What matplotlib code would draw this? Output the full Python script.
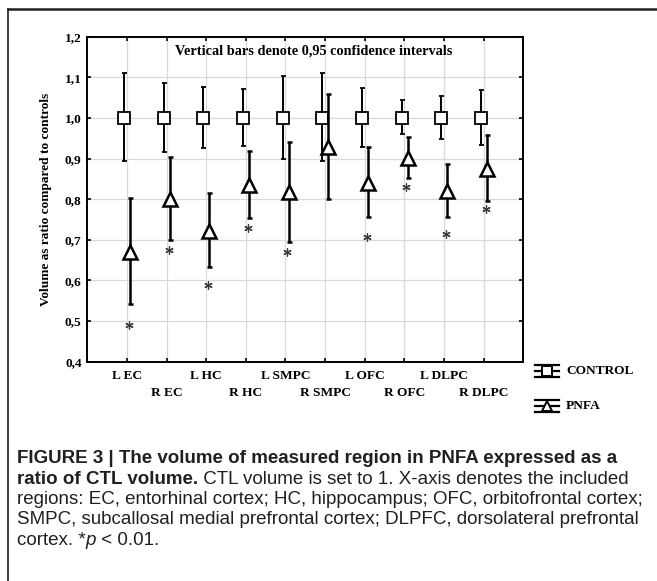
import matplotlib
matplotlib.use("Agg")
import matplotlib.pyplot as plt
from matplotlib.lines import Line2D
import numpy as np

# region labels (L/R alternate on two rows)
regions = ['L EC', 'R EC', 'L HC', 'R HC', 'L SMPC', 'R SMPC',
           'L OFC', 'R OFC', 'L DLPC', 'R DLPC']

# control: mean 1 with 95% CI
ctrl_mean = [1.0] * 10
ctrl_hi = [1.110, 1.087, 1.077, 1.071, 1.104, 1.110, 1.074, 1.043, 1.055, 1.068]
ctrl_lo = [0.893, 0.916, 0.925, 0.931, 0.898, 0.894, 0.929, 0.960, 0.947, 0.934]

# PNFA: ratio with 95% CI
pnfa_mean = [0.670, 0.800, 0.722, 0.836, 0.817, 0.929, 0.841, 0.901, 0.821, 0.874]
pnfa_hi = [0.802, 0.903, 0.815, 0.919, 0.940, 1.058, 0.929, 0.952, 0.887, 0.958]
pnfa_lo = [0.543, 0.699, 0.633, 0.753, 0.695, 0.800, 0.755, 0.852, 0.757, 0.796]

# significance stars (None = not significant)
star_y = [0.490, 0.675, 0.589, 0.728, 0.670, None, 0.706, 0.831, 0.714, 0.777]

yticks = [0.4, 0.5, 0.6, 0.7, 0.8, 0.9, 1.0, 1.1, 1.2]

W, H = 657, 581
SERIF = ['Liberation Serif', 'DejaVu Serif']
CAPF = ['Liberation Sans', 'DejaVu Sans']
FS = 9.6


def px(x, y):
    return x / W, 1 - y / H


fig = plt.figure(figsize=(W / 100, H / 100), dpi=100)
ax = fig.add_axes([87.3 / W, 1 - 361.7 / H, 436 / W, 325 / H])

x = np.arange(1, len(regions) + 1)
ctrl_err = [np.array(ctrl_mean) - np.array(ctrl_lo), np.array(ctrl_hi) - np.array(ctrl_mean)]
pnfa_err = [np.array(pnfa_mean) - np.array(pnfa_lo), np.array(pnfa_hi) - np.array(pnfa_mean)]

ax.errorbar(x - 0.07, ctrl_mean, yerr=ctrl_err, fmt='s', color='black', mfc='white',
            mec='black', ms=8, mew=1.3, elinewidth=1.4, capsize=1.8, capthick=1.4, zorder=4)
ax.errorbar(x + 0.08, pnfa_mean, yerr=pnfa_err, fmt='^', color='black', mfc='white',
            mec='black', ms=9.5, mew=1.8, elinewidth=1.8, capsize=1.8, capthick=1.6, zorder=5)

sx = [xi + 0.05 for xi, s in zip(x, star_y) if s is not None]
sy = [s for s in star_y if s is not None]
ax.scatter(sx, sy, marker=(6, 2, 0), s=28, color='#3a3a3a', linewidths=0.9, zorder=3)

ax.text(5.72, 1.165, 'Vertical bars denote 0,95 confidence intervals', ha='center', va='center',
        fontsize=10.3, fontweight='bold', family=SERIF)

ax.set_xlim(0, 11)
ax.set_ylim(0.4, 1.2)
ax.set_yticks(yticks)
ax.set_yticklabels([('%.1f' % v).replace('.', ',') for v in yticks], family=SERIF,
                   fontweight='bold', fontsize=FS)
ax.set_xticks(x)
ax.set_xticklabels(regions, family=SERIF, fontweight='bold', fontsize=FS)
ax.tick_params(direction='in', length=3, width=1.2, top=True, right=True)
ax.tick_params(axis='x', pad=6)
ax.tick_params(axis='y', pad=4)
# stagger: R labels on a second row
for t in ax.xaxis.get_major_ticks()[1::2]:
    t.set_pad(18.5)
ax.grid(True, color='#d9d9d9', lw=0.9, zorder=0)
ax.set_axisbelow(True)
for sp in ax.spines.values():
    sp.set_linewidth(1.4)

ax.set_ylabel('Volume as ratio compared to controls', family=SERIF, fontweight='bold', fontsize=FS)
ax.yaxis.set_label_coords(-0.08, 0.5)

# legend (statistica style: caps + centre line + marker)
for cy, mk, ms, label in [(371, 's', 7, 'CONTROL'), (406, '^', 7.5, 'PNFA')]:
    for dy in (-6, 0, 6):
        x0, y0 = px(535, cy + dy)
        x1, y1 = px(559, cy + dy)
        fig.add_artist(Line2D([x0, x1], [y0, y1], color='black', lw=1.6))
    xa, ya = px(547, cy - 6)
    xb, yb = px(547, cy + 6)
    fig.add_artist(Line2D([xa, xb], [ya, yb], color='black', lw=1.4))
    xm, ym = px(547, cy)
    fig.add_artist(Line2D([xm], [ym], marker=mk, ms=ms, mfc='white', mec='black', mew=1.4))
    tx, ty = px(566, cy)
    fig.text(tx, ty, label, ha='left', va='center', family=SERIF, fontweight='bold', fontsize=FS)

# frame lines of the figure panel
fig.add_artist(Line2D([8 / W, 1], [1 - 8.5 / H, 1 - 8.5 / H], color='#231f20', lw=1.8))
fig.add_artist(Line2D([8 / W, 8 / W], [1 - 8.5 / H, 0], color='#231f20', lw=1.2))

# caption
cap_lines = [
    [('FIGURE 3 | The volume of measured region in PNFA expressed as a', 'bold', 'normal')],
    [('ratio of CTL volume.', 'bold', 'normal'),
     (' CTL volume is set to 1. X-axis denotes the included', 'normal', 'normal')],
    [('regions: EC, entorhinal cortex; HC, hippocampus; OFC, orbitofrontal cortex;', 'normal', 'normal')],
    [('SMPC, subcallosal medial prefrontal cortex; DLPFC, dorsolateral prefrontal', 'normal', 'normal')],
    [('cortex. *', 'normal', 'normal'), ('p', 'normal', 'italic'), (' < 0.01.', 'normal', 'normal')],
]
base_y = [463, 483.5, 504, 524.5, 545]
for parts, by in zip(cap_lines, base_y):
    prev = None
    for txt, wt, st in parts:
        if prev is None:
            cx, cy = px(17, by)
            prev = fig.text(cx, cy, txt, ha='left', va='baseline', family=CAPF,
                            fontweight=wt, style=st, fontsize=13.5, color='#231f20')
        else:
            prev = ax.annotate(txt, xy=(1, 0), xycoords=prev, ha='left', va='bottom',
                               family=CAPF, fontweight=wt, style=st, fontsize=13.5,
                               color='#231f20', annotation_clip=False)

fig.savefig('out.png', dpi=100)
